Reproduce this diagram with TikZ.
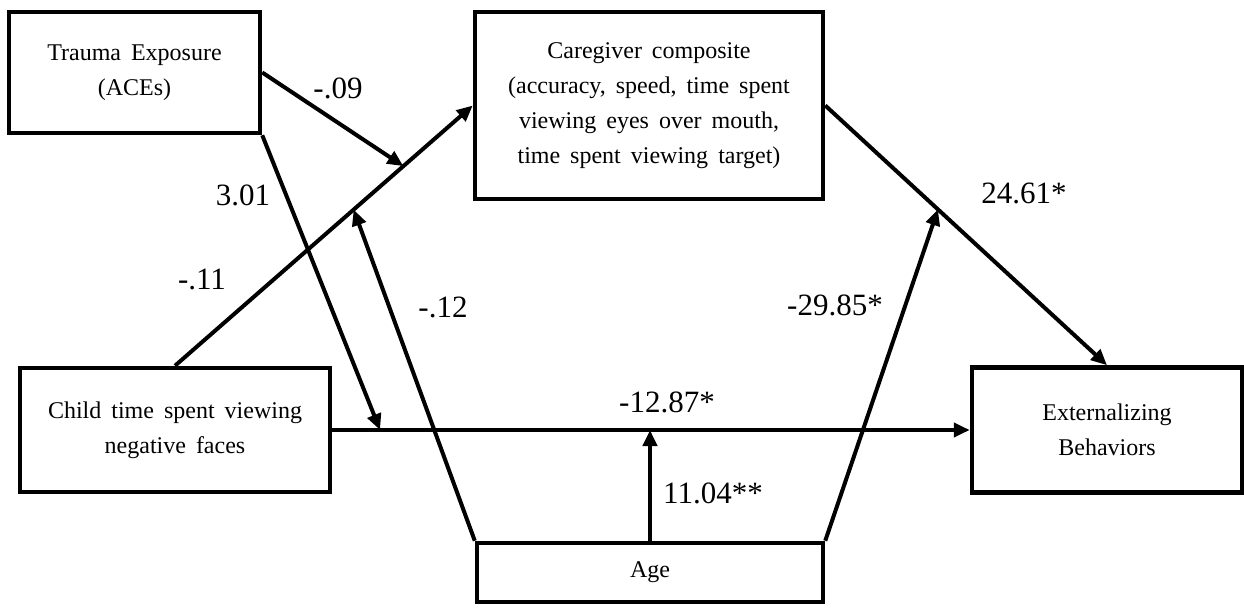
\documentclass[tikz,border=0pt]{standalone}
\usepackage{fontspec}
\setmainfont{Liberation Serif}
\usetikzlibrary{arrows.meta,calc}
% text inside the boxes: loose word spacing
\newcommand\boxtext{\fontsize{24}{35}\selectfont\spaceskip=10pt plus 3pt minus 1pt\relax}
\newcommand\coeftext{\fontsize{31}{36}\selectfont}
\begin{document}
\begin{tikzpicture}[x=1pt,y=-1pt,
  box/.style={draw, line width=4.5pt, inner sep=0pt, align=center, font=\boxtext},
  link/.style={line width=4pt},
  arr/.style={link, -{Triangle[length=16pt,width=14pt]}},
  coef/.style={font=\coeftext, inner sep=0pt}]
\useasboundingbox (0,0) rectangle (1244,609);

% variables
\node[box, minimum width=251pt, minimum height=121pt] (trauma) at (134.5,72.5)
  {Trauma Exposure\\(ACEs)};
\node[box, minimum width=348pt, minimum height=187pt] (care) at (649,105.5)
  {Caregiver composite\\(accuracy, speed, time spent\\viewing eyes over mouth,\\time spent viewing target)};
\node[box, minimum width=310pt, minimum height=124pt] (child) at (175,430)
  {Child time spent viewing\\negative faces};
\node[box, minimum width=270pt, minimum height=125pt] (ext) at (1107,430)
  {Externalizing\\Behaviors};
\node[box, minimum width=346pt, minimum height=59pt] (age) at (650,572.5) {Age};

% points where moderating paths meet other paths
\coordinate (p09) at ($(child.north)!0.767!(care.west)$);
\coordinate (p12) at ($(child.north)!0.6!(care.west)$);
\coordinate (p301) at ($(child.east)!0.075!(ext.west)$);
\coordinate (p2985) at ($(care.east)!0.4!(ext.north)$);
\coordinate (p1104) at (age.north |- child.east);

% paths
\draw[arr] (child.north) -- (care.west);
\draw[arr] (care.east) -- (ext.north);
\draw[arr] (child.east) -- (ext.west);
\draw[arr] (trauma.east) -- (p09);
\draw[arr] (trauma.south east) -- (p301);
\draw[arr] (age.north west) -- (p12);
\draw[arr] (age.north) -- (p1104);
\draw[arr] (age.north east) -- (p2985);

% coefficients
\node[coef] (c09) at (338,88) {-.09};
\node[coef] (c301) at (243,195) {3.01};
\node[coef] (c11) at (202,279) {-.11};
\node[coef] (c12) at (443,307) {-.12};
\node[coef] (c1287) at (667,402) {-12.87*};
\node[coef] (c1104) at (713,493) {11.04**};
\node[coef] (c2985) at (835,305) {-29.85*};
\node[coef] (c2461) at (1024,193) {24.61*};
\end{tikzpicture}
\end{document}
